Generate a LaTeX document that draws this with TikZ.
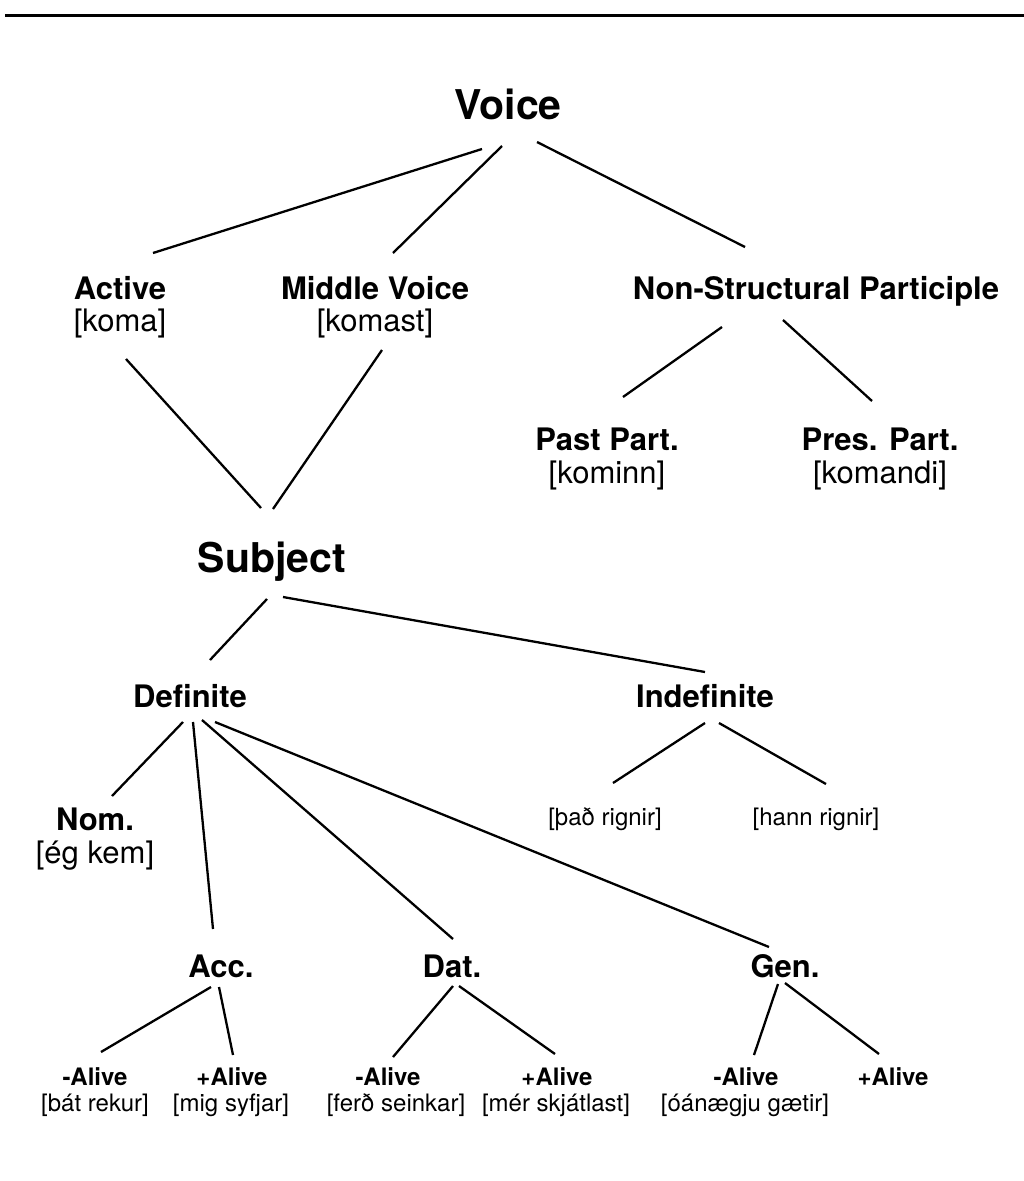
\documentclass[tikz,border=0pt]{standalone}
\usepackage{fontspec}
\setmainfont{TeX Gyre Heros}
\begin{document}
\begin{tikzpicture}[x=1pt,y=-1pt,
  big/.style={font=\fontsize{41}{43}\selectfont\bfseries, inner sep=0pt, anchor=base},
  lab/.style={font=\fontsize{31}{33}\selectfont\bfseries, inner sep=0pt, anchor=base},
  ex/.style={font=\fontsize{31}{33}\selectfont, inner sep=0pt, anchor=base},
  slab/.style={font=\fontsize{24}{26}\selectfont\bfseries, inner sep=0pt, anchor=base},
  sex/.style={font=\fontsize{24}{26}\selectfont, inner sep=0pt, anchor=base},
  edge/.style={line width=2.3pt}]
\useasboundingbox (0,0) rectangle (1024,1181);
\fill[white] (0,0) rectangle (1024,1181);
% top rule
\coordinate (ruleL) at (5,15.5);
\coordinate (ruleR) at (1024,15.5);
\draw[line width=3pt] (ruleL) -- (ruleR);

% nodes
\node[big] (voice) at (508,119) {Voice};
\node[lab] (active) at (120,299) {Active};
\node[ex]  (activeex) at (120,331) {[koma]};
\node[lab] (middle) at (375,299) {Middle Voice};
\node[ex]  (middleex) at (375,331) {[komast]};
\node[lab] (nsp) at (816,299) {Non-Structural Participle};
\node[lab] (past) at (607,450) {Past Part.};
\node[ex]  (pastex) at (607,483) {[kominn]};
\node[lab] (pres) at (880,450) {Pres. Part.};
\node[ex]  (presex) at (880,483) {[komandi]};
\node[big] (subject) at (272,572) {Subject};
\node[lab] (definite) at (190,707) {Definite};
\node[lab] (indefinite) at (705,707) {Indefinite};
\node[lab] (nom) at (95,830) {Nom.};
\node[ex]  (nomex) at (95,863) {[ég kem]};
\node[sex] (thad) at (605,825) {[það rignir]};
\node[sex] (hann) at (816,825) {[hann rignir]};
\node[lab] (acc) at (221,977) {Acc.};
\node[lab] (dat) at (452,977) {Dat.};
\node[lab] (gen) at (785,977) {Gen.};
\node[slab] (accm) at (95,1085) {-Alive};
\node[sex]  (accmex) at (95,1111) {[bát rekur]};
\node[slab] (accp) at (232,1085) {+Alive};
\node[sex]  (accpex) at (231,1111) {[mig syfjar]};
\node[slab] (datm) at (388,1085) {-Alive};
\node[sex]  (datmex) at (396,1111) {[ferð seinkar]};
\node[slab] (datp) at (557,1085) {+Alive};
\node[sex]  (datpex) at (556,1111) {[mér skjátlast]};
\node[slab] (genm) at (746,1085) {-Alive};
\node[sex]  (genmex) at (745,1111) {[óánægju gætir]};
\node[slab] (genp) at (893,1085) {+Alive};

% connectors
\draw[edge] ([shift={(-26,30)}]voice.base) -- ([shift={(33,-46)}]active.base);
\draw[edge] ([shift={(-6,27)}]voice.base) -- ([shift={(18,-46)}]middle.base);
\draw[edge] ([shift={(29,23)}]voice.base) -- ([shift={(-71,-52)}]nsp.base);
\draw[edge] ([shift={(6,28)}]activeex.base) -- ([shift={(-11,-64)}]subject.base);
\draw[edge] ([shift={(7,19)}]middleex.base) -- ([shift={(1,-63)}]subject.base);
\draw[edge] ([shift={(-94,28)}]nsp.base) -- ([shift={(16,-53)}]past.base);
\draw[edge] ([shift={(-33,21)}]nsp.base) -- ([shift={(-8,-49)}]pres.base);
\draw[edge] ([shift={(-5,27)}]subject.base) -- ([shift={(20,-47)}]definite.base);
\draw[edge] ([shift={(11,25)}]subject.base) -- ([shift={(0,-35)}]indefinite.base);
\draw[edge] ([shift={(-7,15)}]definite.base) -- ([shift={(17,-34)}]nom.base);
\draw[edge] ([shift={(3,15)}]definite.base) -- ([shift={(-8,-48)}]acc.base);
\draw[edge] ([shift={(12,13)}]definite.base) -- ([shift={(1,-38)}]dat.base);
\draw[edge] ([shift={(25,15)}]definite.base) -- ([shift={(-16,-30)}]gen.base);
\draw[edge] ([shift={(0,16)}]indefinite.base) -- ([shift={(8,-42)}]thad.base);
\draw[edge] ([shift={(14,16)}]indefinite.base) -- ([shift={(10,-41)}]hann.base);
\draw[edge] ([shift={(-10,10)}]acc.base) -- ([shift={(6,-33)}]accm.base);
\draw[edge] ([shift={(-2,10)}]acc.base) -- ([shift={(1,-30)}]accp.base);
\draw[edge] ([shift={(1,9)}]dat.base) -- ([shift={(5,-28)}]datm.base);
\draw[edge] ([shift={(7,9)}]dat.base) -- ([shift={(-2,-31)}]datp.base);
\draw[edge] ([shift={(-7,7)}]gen.base) -- ([shift={(8,-30)}]genm.base);
\draw[edge] ([shift={(0,6)}]gen.base) -- ([shift={(-14,-31)}]genp.base);
\end{tikzpicture}
\end{document}
